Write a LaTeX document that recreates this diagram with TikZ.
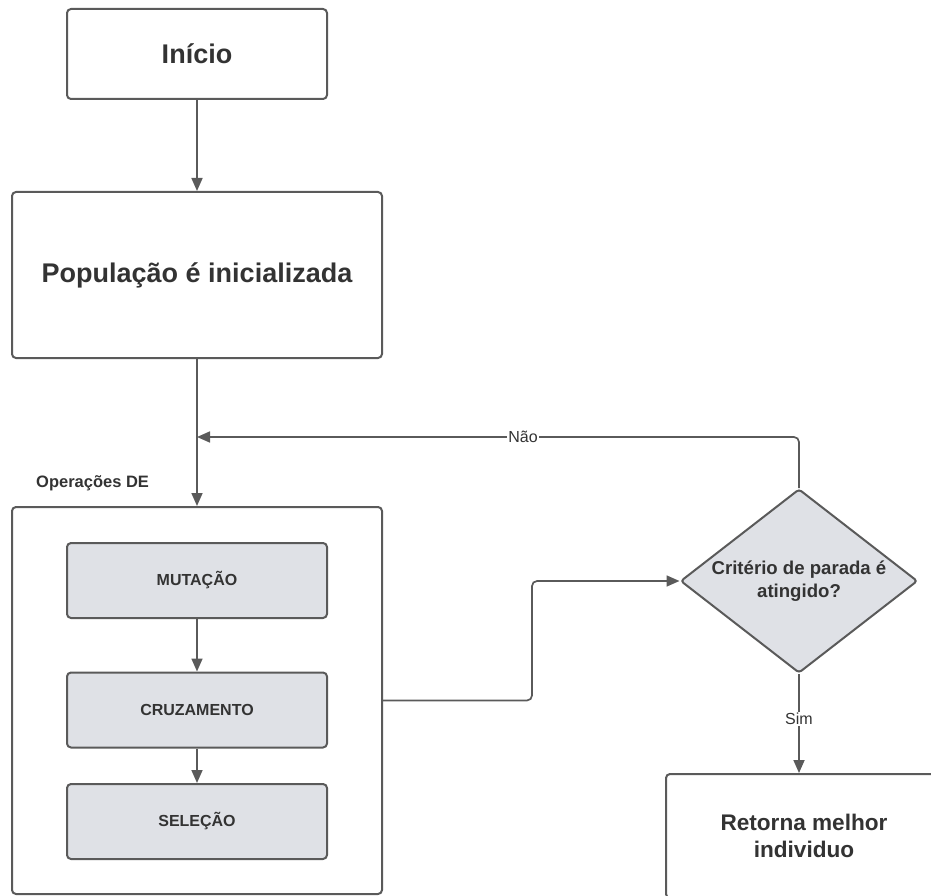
\documentclass[tikz,border=0pt]{standalone}
\usepackage{fontspec}
\setmainfont{Liberation Sans}
\usetikzlibrary{shapes.geometric,arrows.meta}
\definecolor{linec}{HTML}{5A5A5A}
\definecolor{txtc}{HTML}{333333}
\definecolor{boxfill}{HTML}{DFE1E6}
\tikzset{
  bigbox/.style={draw=linec, line width=2pt, rounded corners=4pt, fill=white, text=txtc, font=\bfseries\fontsize{27}{32}\selectfont, inner sep=0pt},
  opbox/.style={draw=linec, line width=2pt, rounded corners=4pt, fill=boxfill, text=txtc, font=\bfseries\fontsize{16}{19}\selectfont, minimum width=260pt, minimum height=75pt, inner sep=0pt},
  decbox/.style={draw=linec, line width=2pt, shape=diamond, aspect=1.29, rounded corners=3pt, fill=boxfill, text=txtc, font=\bfseries\fontsize{18.6}{23}\selectfont, minimum width=237pt, minimum height=184pt, inner sep=0pt, align=center},
  conn/.style={draw=linec, line width=1.7pt, rounded corners=5pt},
  arr/.style={conn, -{Triangle[length=13pt,width=11pt]}},
  lbl/.style={text=txtc, font=\fontsize{16}{19}\selectfont, fill=white, inner sep=1pt},
}
\begin{document}
\begin{tikzpicture}[x=1pt,y=-1pt]
\useasboundingbox (0,0) rectangle (931,896);
\clip (0,0) rectangle (931,896);
\node[bigbox, minimum width=260pt, minimum height=90pt] (init) at (197,54) {Início};
\node[bigbox, minimum width=370pt, minimum height=166pt] (pop) at (197,275) {População é inicializada};
\node[draw=linec, line width=2pt, rounded corners=4pt, minimum width=370pt, minimum height=387pt, inner sep=0pt] (ops) at (197,700.5) {};
\node[anchor=west, text=txtc, font=\bfseries\fontsize{16.5}{19}\selectfont, inner sep=0pt] (opslbl) at (36,483) {Operações DE};
\node[opbox] (mut) at (197,580.5) {MUTAÇÃO};
\node[opbox] (cruz) at (197,710) {CRUZAMENTO};
\node[opbox] (sel) at (197,821.5) {SELEÇÃO};
\node[decbox] (dec) at (799,581) {Critério de parada é\\atingido?};
\node[bigbox, font=\bfseries\fontsize{22.6}{27}\selectfont, align=center, minimum width=276pt, minimum height=124pt] (ret) at (804,836) {Retorna melhor\\individuo};
\coordinate (j) at (197,437);
\draw[arr] (init) -- (pop);
\draw[arr] (pop) -- (ops);
\draw[arr] (mut) -- (cruz);
\draw[arr] (cruz) -- (sel);
\draw[arr] (ops.east) -- ++(149,0) |- (dec.west);
\draw[arr] (dec.north) |- (j);
\node[lbl] (nao) at (523,437) {Não};
\draw[arr] (dec.south) -- (dec.south |- ret.north);
\node[lbl] (sim) at (799,719) {Sim};
\end{tikzpicture}
\end{document}
